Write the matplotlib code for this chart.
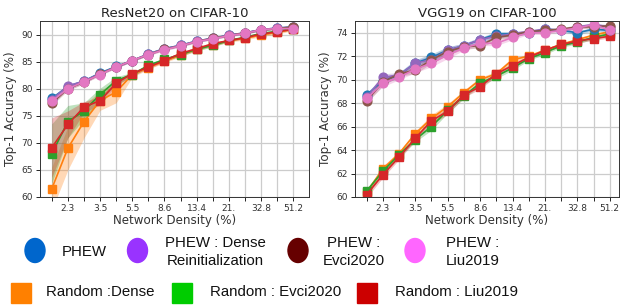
import matplotlib
matplotlib.use("Agg")
import matplotlib.pyplot as plt
import numpy as np
from matplotlib.patches import Ellipse, Rectangle

# ---------------- data ----------------
densities = ["1.8", "2.3", "2.9", "3.5", "4.4", "5.5", "6.9", "8.6",
             "10.7", "13.4", "16.8", "21.", "26.2", "32.8", "41.0", "51.2"]
tick_labels = ["2.3", "3.5", "5.5", "8.6", "13.4", "21.", "32.8", "51.2"]

# ResNet20 on CIFAR-10
r_phew = [78.2, 80.4, 81.4, 82.9, 84.1, 85.2, 86.4, 87.4, 88.0, 88.8, 89.3, 89.9, 90.3, 90.9, 91.2, 91.4]
r_phew_dense = [78.0, 80.5, 81.4, 82.8, 84.0, 85.2, 86.4, 87.4, 88.0, 88.8, 89.3, 89.9, 90.3, 90.9, 91.2, 91.4]
r_phew_evci = [77.3, 80.0, 81.2, 82.7, 84.0, 85.2, 86.3, 87.3, 87.9, 88.7, 89.3, 89.8, 90.3, 90.8, 91.1, 91.4]
r_phew_liu = [77.7, 80.0, 81.3, 82.6, 84.0, 85.2, 86.3, 87.2, 87.9, 88.7, 89.2, 89.8, 90.2, 90.9, 91.1, 91.1]
r_rand_dense = [61.5, 69.0, 73.9, 77.8, 79.4, 82.6, 83.9, 85.1, 86.2, 87.3, 88.1, 88.9, 89.3, 89.9, 90.4, 91.0]
r_rand_evci = [68.0, 73.9, 75.9, 78.9, 81.5, 82.6, 84.3, 85.4, 86.3, 87.3, 88.0, 88.9, 89.5, 90.2, 90.6, 91.1]
r_rand_liu = [69.1, 73.4, 76.6, 77.8, 81.0, 82.8, 84.0, 85.2, 86.5, 87.4, 88.3, 88.9, 89.4, 90.1, 90.5, 91.0]
r_std_phew = [0.4, 0.3, 0.3, 0.2, 0.2, 0.2, 0.2, 0.2, 0.2, 0.2, 0.2, 0.2, 0.2, 0.2, 0.2, 0.2]
r_std_dense = [4.0, 4.0, 3.0, 1.8, 2.0, 0.5, 0.3, 0.3, 0.3, 0.3, 0.3, 0.3, 0.3, 0.3, 0.3, 0.3]
r_std_evci = [5.5, 3.0, 1.5, 1.2, 0.7, 0.4, 0.3, 0.3, 0.3, 0.3, 0.3, 0.2, 0.2, 0.2, 0.2, 0.2]
r_std_liu = [5.5, 2.5, 1.0, 0.8, 0.5, 0.4, 0.3, 0.3, 0.3, 0.3, 0.3, 0.2, 0.2, 0.2, 0.2, 0.2]

# VGG19 on CIFAR-100
v_phew = [68.7, 69.9, 70.4, 71.4, 71.9, 72.5, 72.9, 73.4, 73.9, 73.9, 74.0, 74.3, 74.2, 74.0, 74.3, 74.2]
v_phew_dense = [68.5, 70.2, 70.4, 71.4, 71.7, 72.5, 72.9, 73.4, 73.7, 73.9, 74.1, 74.3, 74.2, 74.5, 74.7, 74.5]
v_phew_evci = [68.2, 69.8, 70.5, 70.8, 71.7, 72.4, 72.8, 72.9, 73.6, 73.8, 74.1, 74.2, 74.3, 74.5, 74.5, 74.6]
v_phew_liu = [68.4, 69.7, 70.2, 70.9, 71.4, 72.1, 72.7, 73.1, 73.1, 73.6, 74.0, 74.0, 74.2, 74.4, 74.7, 74.2]
v_rand_dense = [60.4, 62.4, 63.7, 65.4, 66.7, 67.7, 68.9, 70.0, 70.5, 71.7, 72.0, 72.5, 73.0, 73.4, 73.8, 74.1]
v_rand_evci = [60.5, 62.2, 63.6, 64.9, 66.0, 67.4, 68.6, 69.7, 70.3, 71.0, 71.8, 72.3, 72.9, 73.2, 73.6, 73.9]
v_rand_liu = [60.2, 61.9, 63.4, 65.0, 66.5, 67.3, 68.7, 69.4, 70.5, 71.2, 71.9, 72.5, 73.0, 73.3, 73.5, 73.7]
v_std_phew = [0.2, 0.3, 0.2, 0.3, 0.3, 0.3, 0.2, 0.2, 0.2, 0.2, 0.15, 0.15, 0.15, 0.15, 0.15, 0.15]
v_std_rand = [0.25, 0.25, 0.2, 0.2, 0.3, 0.25, 0.2, 0.2, 0.2, 0.2, 0.15, 0.15, 0.15, 0.15, 0.15, 0.15]

phew_labels = ["PHEW", "PHEW : Dense\nReinitialization", "PHEW :\nEvci2020", "PHEW :\nLiu2019"]
rand_labels = ["Random :Dense", "Random : Evci2020", "Random : Liu2019"]
phew_line_colors = ["#1f77b4", "#9467bd", "#8c564b", "#e377c2"]
rand_line_colors = ["#ff7f0e", "#2ca02c", "#d62728"]
phew_legend_colors = ["#0066cc", "#9933ff", "#660000", "#ff66ff"]
rand_legend_colors = ["#ff8000", "#00cc00", "#cc0000"]

# ---------------- figure ----------------
W, H = 621, 306
fig = plt.figure(figsize=(W / 100, H / 100), dpi=100)
plt.rcParams['font.family'] = ['DejaVu Sans']

def px_box(x0, x1, y0, y1):
    return [x0 / W, 1 - y1 / H, (x1 - x0) / W, (y1 - y0) / H]

ax1 = fig.add_axes(px_box(40, 309, 21, 197))
ax2 = fig.add_axes(px_box(355, 619, 21, 197))

x = np.arange(len(densities))

def draw(ax, phew_sets, phew_stds, rand_sets, rand_stds, title, ylim, yticks, xlim):
    ax.set_axisbelow(True)
    ax.grid(True, color="#cccccc", linewidth=0.9)
    for vals, sd, c in zip(rand_sets, rand_stds, rand_line_colors):
        v = np.array(vals); s = np.array(sd)
        ax.fill_between(x, v - s, v + s, color=c, alpha=0.3, linewidth=0)
    for vals, sd, c in zip(phew_sets, phew_stds, phew_line_colors):
        v = np.array(vals); s = np.array(sd)
        ax.fill_between(x, v - s, v + s, color=c, alpha=0.3, linewidth=0)
    for vals, c in zip(rand_sets, rand_line_colors):
        ax.plot(x, vals, color=c, marker="s", markersize=6.3, linewidth=1.2)
    for vals, c in zip(phew_sets, phew_line_colors):
        ax.plot(x, vals, color=c, marker="o", markersize=6.3, linewidth=1.2)
    ax.set_xticks(x)
    ax.set_xticklabels(["" if i % 2 == 0 else densities[i] for i in x], fontsize=6.5)
    ax.set_xlim(*xlim)
    ax.set_ylim(*ylim)
    ax.set_yticks(yticks)
    ax.tick_params(axis="both", labelcolor="#333333")
    ax.tick_params(axis="y", labelsize=6.5, length=3, width=0.6, pad=2)
    ax.tick_params(axis="x", length=3, width=0.6, pad=2)
    ax.set_title(title, fontsize=9.5, pad=3, color="#222222")
    ax.set_xlabel("Network Density (%)", fontsize=8.6, labelpad=1, color="#333333")
    ax.set_ylabel("Top-1 Accuracy (%)", fontsize=8.6, labelpad=3, color="#333333")
    for sp in ax.spines.values():
        sp.set_color("#333333")
        sp.set_linewidth(0.7)

draw(ax1,
     [r_phew, r_phew_dense, r_phew_evci, r_phew_liu], [r_std_phew] * 4,
     [r_rand_dense, r_rand_evci, r_rand_liu], [r_std_dense, r_std_evci, r_std_liu],
     "ResNet20 on CIFAR-10", (60, 92.5), [60, 65, 70, 75, 80, 85, 90], (-0.73, 15.98))
draw(ax2,
     [v_phew, v_phew_dense, v_phew_evci, v_phew_liu], [v_std_phew] * 4,
     [v_rand_dense, v_rand_evci, v_rand_liu], [v_std_rand] * 3,
     "VGG19 on CIFAR-100", (60, 75), [60, 62, 64, 66, 68, 70, 72, 74], (-0.72, 15.57))

# ---------------- legend (figure level) ----------------
lfont = dict(family=["Liberation Sans", "DejaVu Sans"], fontsize=10.8, color="#111111")
ell_x = [35, 137.5, 298, 415]
txt_x = [84, 215, 354, 473]
row1_y = 250.5
for ex, tx, c, lab in zip(ell_x, txt_x, phew_legend_colors, phew_labels):
    fig.add_artist(Ellipse((ex / W, 1 - row1_y / H), 20 / W, 24 / H,
                           transform=fig.transFigure, color=c))
    fig.text(tx / W, 1 - 252 / H, lab, ha="center", va="center",
             multialignment="center", linespacing=1.35, **lfont)

sq_x = [21, 181.5, 366.7]
t2_x = [46, 210, 395]
row2_y = 292.5
for sx, tx, c, lab in zip(sq_x, t2_x, rand_legend_colors, rand_labels):
    fig.add_artist(Rectangle(((sx - 10) / W, 1 - (row2_y + 10) / H), 20 / W, 20 / H,
                             transform=fig.transFigure, color=c))
    fig.text(tx / W, 1 - row2_y / H, lab, ha="left", va="center", **lfont)

fig.savefig("out.png", dpi=100)
